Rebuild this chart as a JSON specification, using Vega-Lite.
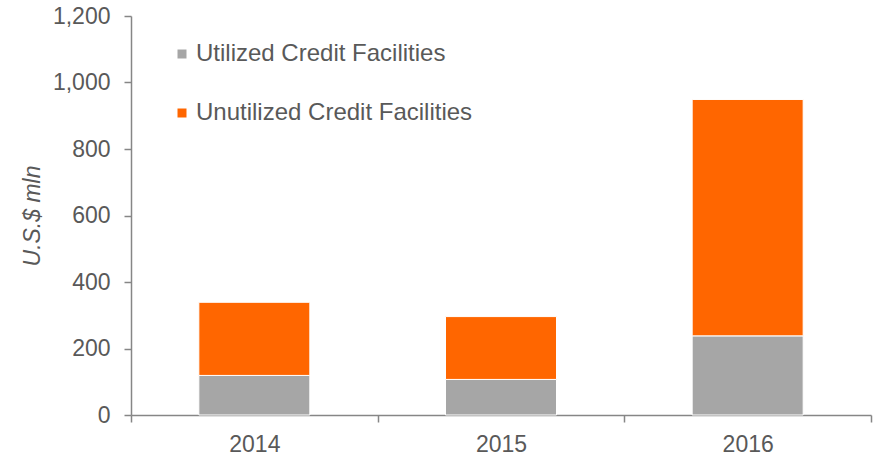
{
  "$schema": "https://vega.github.io/schema/vega-lite/v6.json",
  "width": 740,
  "height": 399,
  "autosize": {"type": "none"},
  "padding": {"left": 131, "top": 16, "right": 5, "bottom": 42},
  "background": "white",
  "config": {
    "view": {"stroke": null},
    "font": "Liberation Sans",
    "axis": {"labelFont": "Liberation Sans", "titleFont": "Liberation Sans"}
  },
  "data": {
    "values": [
      {"year": "2014", "segment": "Utilized Credit Facilities", "value": 119},
      {"year": "2014", "segment": "Unutilized Credit Facilities", "value": 220},
      {"year": "2015", "segment": "Utilized Credit Facilities", "value": 107},
      {"year": "2015", "segment": "Unutilized Credit Facilities", "value": 189},
      {"year": "2016", "segment": "Utilized Credit Facilities", "value": 238},
      {"year": "2016", "segment": "Unutilized Credit Facilities", "value": 711}
    ]
  },
  "mark": {"type": "bar", "stroke": "white", "strokeWidth": 1, "width": {"band": 0.45}},
  "encoding": {
    "x": {
      "field": "year",
      "type": "nominal",
      "scale": {"paddingInner": 0, "paddingOuter": 0},
      "axis": {
        "title": null,
        "labelAngle": 0,
        "labelFontSize": 23,
        "labelColor": "#595959",
        "domainColor": "#868686",
        "domainWidth": 1.5,
        "tickColor": "#868686",
        "tickWidth": 1.5,
        "tickSize": 7,
        "tickBand": "extent",
        "labelPadding": 11
      }
    },
    "y": {
      "field": "value",
      "type": "quantitative",
      "stack": "zero",
      "scale": {"domain": [0, 1200], "nice": false},
      "axis": {
        "title": "U.S.$ mln",
        "titleFontStyle": "italic",
        "titleFontWeight": "normal",
        "titleFontSize": 23,
        "titleColor": "#595959",
        "titlePadding": 8,
        "values": [0, 200, 400, 600, 800, 1000, 1200],
        "format": ",d",
        "grid": false,
        "labelFontSize": 23,
        "labelColor": "#595959",
        "labelPadding": 14,
        "domainColor": "#868686",
        "domainWidth": 1.5,
        "tickColor": "#868686",
        "tickWidth": 1.5,
        "tickSize": 7
      }
    },
    "color": {
      "field": "segment",
      "type": "nominal",
      "scale": {
        "domain": ["Utilized Credit Facilities", "Unutilized Credit Facilities"],
        "range": ["#a6a6a6", "#ff6600"]
      },
      "legend": {
        "title": null,
        "orient": "none",
        "legendX": 39,
        "legendY": 26,
        "padding": 0,
        "symbolType": "square",
        "symbolSize": 81,
        "symbolStrokeWidth": 0,
        "labelFontSize": 24,
        "labelColor": "#595959",
        "labelOffset": 2,
        "rowPadding": 35,
        "labelLimit": 400
      }
    },
    "order": {"field": "segment", "sort": "descending"}
  }
}
